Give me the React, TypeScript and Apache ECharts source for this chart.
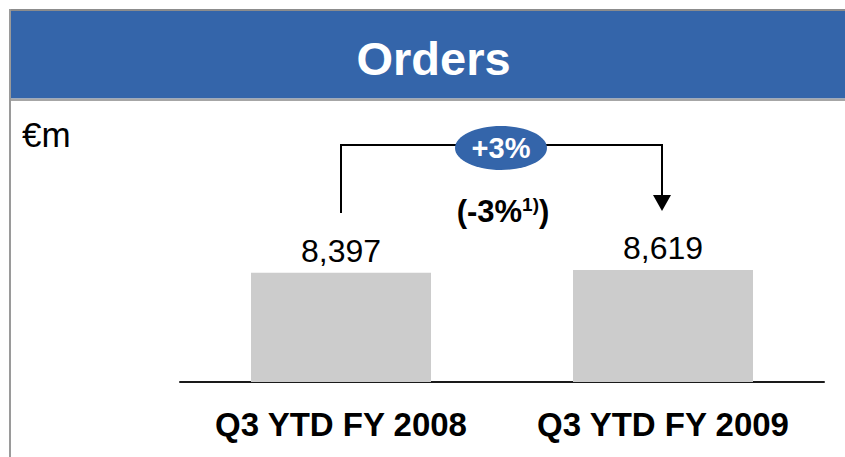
import React, { useEffect, useRef } from "react";
import * as echarts from "echarts";

const categories = ["Q3 YTD FY 2008", "Q3 YTD FY 2009"];
const orders = [8397, 8619];
const valueLabels = ["8,397", "8,619"];
const titleText = "Orders";
const unitText = "€m";
const growthText = "+3%";
const growthNote = ["(-3%", "1)", ")"];

const SANS = 'Arial, "Liberation Sans", Helvetica, sans-serif';

export default function App() {
  const ref = useRef<HTMLDivElement>(null);
  useEffect(() => {
    if (!ref.current) return;
    const chart = echarts.init(ref.current, undefined, { renderer: "svg" });
    chart.setOption({
      animation: false,
      backgroundColor: "#ffffff",
      grid: { left: 180, right: 21, top: 122, bottom: 75, containLabel: false },
      xAxis: {
        type: "category",
        data: categories,
        axisLine: { show: true, lineStyle: { color: "#1a1a1a", width: 2 } },
        axisTick: { show: false },
        axisLabel: {
          interval: 0,
          hideOverlap: false,
          margin: 26,
          color: "#000000",
          fontFamily: SANS,
          fontWeight: "bold",
          fontSize: 33,
        },
      },
      yAxis: { type: "value", min: 0, max: 20000, show: false, splitLine: { show: false } },
      series: [
        {
          type: "bar",
          data: orders,
          barWidth: 180,
          itemStyle: { color: "#cccccc" },
          label: {
            show: true,
            position: "top",
            distance: 6,
            color: "#000000",
            fontFamily: SANS,
            fontSize: 32,
            formatter: (p: any) => valueLabels[p.dataIndex],
          },
        },
      ],
      graphic: [
        { type: "rect", shape: { x: 9, y: 9, width: 836, height: 2 }, style: { fill: "#8c8c8c" } },
        { type: "rect", shape: { x: 9, y: 9, width: 2, height: 448 }, style: { fill: "#9a9a9a" } },
        { type: "rect", shape: { x: 11, y: 11, width: 834, height: 87.5 }, style: { fill: "#3465aa" } },
        { type: "rect", shape: { x: 11, y: 98.5, width: 834, height: 2.5 }, style: { fill: "#a6a6a6" } },
        {
          type: "text",
          x: 433.5,
          y: 58,
          style: {
            text: titleText,
            fill: "#ffffff",
            font: `bold 47px ${SANS}`,
            align: "center",
            verticalAlign: "middle",
          },
        },
        {
          type: "text",
          x: 22,
          y: 134.5,
          style: {
            text: unitText,
            fill: "#000000",
            font: `35px ${SANS}`,
            align: "left",
            verticalAlign: "middle",
          },
        },
        {
          type: "polyline",
          shape: { points: [[341, 213], [341, 145], [662, 145], [662, 197]] },
          style: { stroke: "#000000", lineWidth: 2, fill: "none" },
        },
        {
          type: "polygon",
          shape: { points: [[653, 195], [671, 195], [662, 211]] },
          style: { fill: "#000000" },
        },
        {
          type: "ellipse",
          shape: { cx: 501, cy: 148, rx: 46, ry: 22 },
          style: { fill: "#3465aa" },
        },
        {
          type: "text",
          x: 501,
          y: 148,
          style: {
            text: growthText,
            fill: "#ffffff",
            font: `bold 29px ${SANS}`,
            align: "center",
            verticalAlign: "middle",
          },
        },
        {
          type: "text",
          x: 503,
          y: 211,
          style: {
            text: `{a|${growthNote[0]}}{s|${growthNote[1]}}{a|${growthNote[2]}}`,
            align: "center",
            verticalAlign: "middle",
            rich: {
              a: { fontFamily: SANS, fontWeight: "bold", fontSize: 31, fill: "#000000", lineHeight: 32 },
              s: { fontFamily: SANS, fontWeight: "bold", fontSize: 19, fill: "#000000", verticalAlign: "top", lineHeight: 32, padding: [0, 0, 12, 0] },
            },
          },
        },
      ],
    });
    return () => chart.dispose();
  }, []);
  return (
    <div
      ref={ref}
      style={{ position: "absolute", left: 0, top: 0, width: 845, height: 457 }}
    />
  );
}
